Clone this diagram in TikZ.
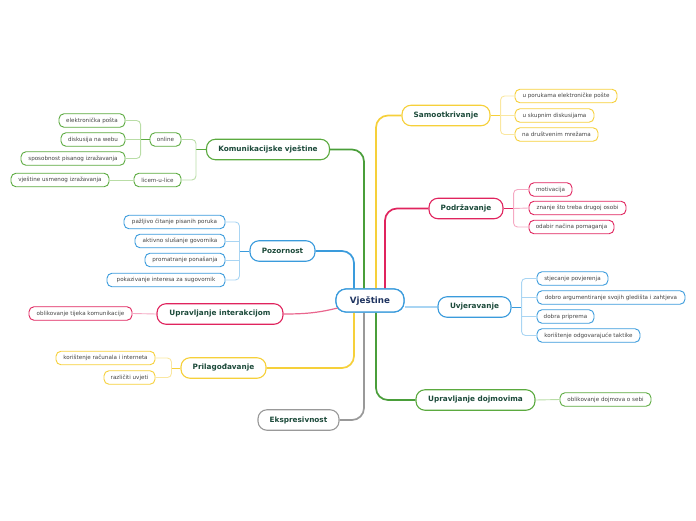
\documentclass[tikz,border=0pt]{standalone}
\usepackage{fontspec}
\setmainfont{DejaVu Sans}
\usetikzlibrary{calc}
\definecolor{cgreen}{HTML}{5BAA3F}
\definecolor{cgreenT}{HTML}{4A9E3A}
\definecolor{cgreenL}{HTML}{B9DDA6}
\definecolor{cblue}{HTML}{3A9BDC}
\definecolor{cblueL}{HTML}{A9D5F3}
\definecolor{cpink}{HTML}{E0245E}
\definecolor{cpinkL}{HTML}{F5A9C3}
\definecolor{cyel}{HTML}{F6D03A}
\definecolor{cyelL}{HTML}{FAE7A0}
\definecolor{cgray}{HTML}{999999}
\definecolor{ctxt}{HTML}{1C4A3A}
\definecolor{croot}{HTML}{1F3460}
\definecolor{cchild}{HTML}{444444}
\tikzset{
  x=1pt, y=-1pt,
  leaf/.style={draw=#1, fill=white, rounded corners=5pt, line width=0.9pt, inner sep=0pt,
     minimum height=13.5pt, text=cchild, font=\fontsize{5.6}{6.5}\selectfont},
  topic/.style={draw=#1, fill=white, rounded corners=9pt, line width=1.1pt, inner sep=0pt,
     minimum height=20.5pt, text=ctxt, font=\fontsize{7.3}{8.5}\selectfont\bfseries},
  rootbox/.style={draw=cblue, fill=white, rounded corners=10pt, line width=1.2pt, inner sep=0pt,
     minimum width=68pt, minimum height=23pt, text=croot, font=\fontsize{8.7}{10}\selectfont\bfseries},
  trunk/.style={draw=#1, line width=1.7pt, rounded corners=12pt},
  twig/.style={draw=#1, line width=0.9pt, rounded corners=4pt},
}
\begin{document}
\begin{tikzpicture}
\useasboundingbox (0,0) rectangle (696,520);
% root
\node[rootbox] (root) at (370,300.5) {Vještine};
% topics
\node[topic=cgreen, minimum width=123pt] (kom) at (268,149.5) {Komunikacijske vještine};
\node[topic=cblue, minimum width=65pt] (poz) at (282.5,251) {Pozornost};
\node[topic=cpink, minimum width=126pt] (int) at (220,314) {Upravljanje interakcijom};
\node[topic=cyel, minimum width=85pt] (pri) at (223.5,368) {Prilagođavanje};
\node[topic=cgray, minimum width=81pt] (eks) at (298.5,420) {Ekspresivnost};
\node[topic=cyel, minimum width=88pt] (sam) at (446,115.5) {Samootkrivanje};
\node[topic=cpink, minimum width=74pt] (pod) at (466,208.5) {Podržavanje};
\node[topic=cblue, minimum width=73pt] (uvj) at (474.5,307) {Uvjeravanje};
\node[topic=cgreen, minimum width=119pt] (doj) at (475.5,400) {Upravljanje dojmovima};
% leaves: Komunikacijske
\node[leaf=cgreen, minimum width=31pt] (onl) at (165.5,139.5) {online};
\node[leaf=cgreen, minimum width=47pt] (lic) at (157.5,180) {licem-u-lice};
\node[leaf=cgreen, minimum width=66pt] (ep) at (92,120.5) {elektronička pošta};
\node[leaf=cgreen, minimum width=64pt] (dw) at (93,139.5) {diskusija na webu};
\node[leaf=cgreen, minimum width=104pt] (sp) at (73,158.5) {sposobnost pisanog izražavanja};
\node[leaf=cgreen, minimum width=98pt] (vu) at (60,180) {vještine usmenog izražavanja};
% Pozornost
\node[leaf=cblue, minimum width=101pt] (p1) at (174.5,222) {pažljivo čitanje pisanih poruka};
\node[leaf=cblue, minimum width=90pt] (p2) at (180,241) {aktivno slušanje govornika};
\node[leaf=cblue, minimum width=80pt] (p3) at (185,260) {promatranje ponašanja};
\node[leaf=cblue, minimum width=118pt] (p4) at (166,280) {pokazivanje interesa za sugovornik};
% interakcija
\node[leaf=cpink, minimum width=103pt] (i1) at (80.5,313.5) {oblikovanje tijeka komunikacije};
% prilagodavanje
\node[leaf=cyel, minimum width=99pt] (r1) at (105.5,358) {korištenje računala i interneta};
\node[leaf=cyel, minimum width=51pt] (r2) at (129.5,377.5) {različiti uvjeti};
% samootkrivanje
\node[leaf=cyel, minimum width=102pt] (s1) at (566,96) {u porukama elektroničke pošte};
\node[leaf=cyel, minimum width=79pt] (s2) at (554.5,115.5) {u skupnim diskusijama};
\node[leaf=cyel, minimum width=83pt] (s3) at (556.5,134.5) {na društvenim mrežama};
% podrzavanje
\node[leaf=cpink, minimum width=43pt] (d1) at (550.5,189.5) {motivacija};
\node[leaf=cpink, minimum width=97pt] (d2) at (577.5,208) {znanje što treba drugoj osobi};
\node[leaf=cpink, minimum width=85pt] (d3) at (571.5,227) {odabir načina pomaganja};
% uvjeravanje
\node[leaf=cblue, minimum width=71pt] (u1) at (572.5,278.5) {stjecanje povjerenja};
\node[leaf=cblue, minimum width=148pt] (u2) at (611,297.5) {dobro argumentiranje svojih gledišta i zahtjeva};
\node[leaf=cblue, minimum width=57pt] (u3) at (565.5,316.5) {dobra priprema};
\node[leaf=cblue, minimum width=103pt] (u4) at (588.5,335.5) {korištenje odgovarajuće taktike};
% dojmovi
\node[leaf=cgreen, minimum width=91pt] (j1) at (605.5,399.5) {oblikovanje dojmova o sebi};

% trunks
\draw[trunk=cblue] (poz.east) -| ([xshift=-16pt]root.north);
\draw[trunk=cgreenT] (kom.east) -| ([xshift=-6pt]root.north);
\draw[trunk=cyel] (sam.west) -| ([xshift=6pt]root.north);
\draw[trunk=cpink] (pod.west) -| ([xshift=15pt]root.north);
\draw[trunk=cyel] ([xshift=-16pt]root.south) |- (pri.east);
\draw[trunk=cgray] ([xshift=-6pt]root.south) |- (eks.east);
\draw[trunk=cgreenT] ([xshift=6pt]root.south) |- (doj.west);
\draw[draw=cpink!70, line width=1.2pt] ([xshift=8pt,yshift=-6pt]root.west) to[out=195,in=0] (int.east);
\draw[draw=cblueL, line width=1.1pt] (root.east |- uvj.west) -- (uvj.west);
% redraw root on top of trunk ends
\node[rootbox] at (root) {Vještine};

% twigs
\draw[twig=cgreen] (kom.west) -- ++(-10,0) coordinate (kb);
\draw[twig=cgreenL] (onl.east) -| (kb) |- (lic.east);
\draw[twig=cgreen] (onl.west) -- ++(-9,0) coordinate (ob);
\draw[twig=cgreenL] (ep.east) -| (ob) |- (sp.east);
\draw[twig=cgreenL] (dw.east) -- (ob);
\draw[twig=cgreenL] (lic.west) -- (vu.east);

\draw[twig=cblue] (poz.west) -- ++(-10,0) coordinate (pb);
\draw[twig=cblueL] (p1.east) -| (pb) |- (p4.east);
\draw[twig=cblueL] (p2.east) -- (p2.east -| pb);
\draw[twig=cblueL] (p3.east) -- (p3.east -| pb);

\draw[twig=cpinkL] (int.west) -- (i1.east);

\draw[twig=cyel] (pri.west) -- ++(-9,0) coordinate (rb);
\draw[twig=cyelL] (r1.east) -| (rb) |- (r2.east);

\draw[twig=cyel] (sam.east) -- ++(10,0) coordinate (sb);
\draw[twig=cyelL] (s1.west) -| (sb) |- (s3.west);
\draw[twig=cyelL] (s2.west) -- (sb);

\draw[twig=cpink] (pod.east) -- ++(10,0) coordinate (db);
\draw[twig=cpinkL] (d1.west) -| (db) |- (d3.west);
\draw[twig=cpinkL] (d2.west) -- (db);

\draw[twig=cblue] (uvj.east) -- ++(10,0) coordinate (ub);
\draw[twig=cblueL] (u1.west) -| (ub) |- (u4.west);
\draw[twig=cblueL] (u2.west) -- (u2.west -| ub);
\draw[twig=cblueL] (u3.west) -- (u3.west -| ub);

\draw[twig=cgreenL] (doj.east) -- (j1.west);
\end{tikzpicture}
\end{document}
